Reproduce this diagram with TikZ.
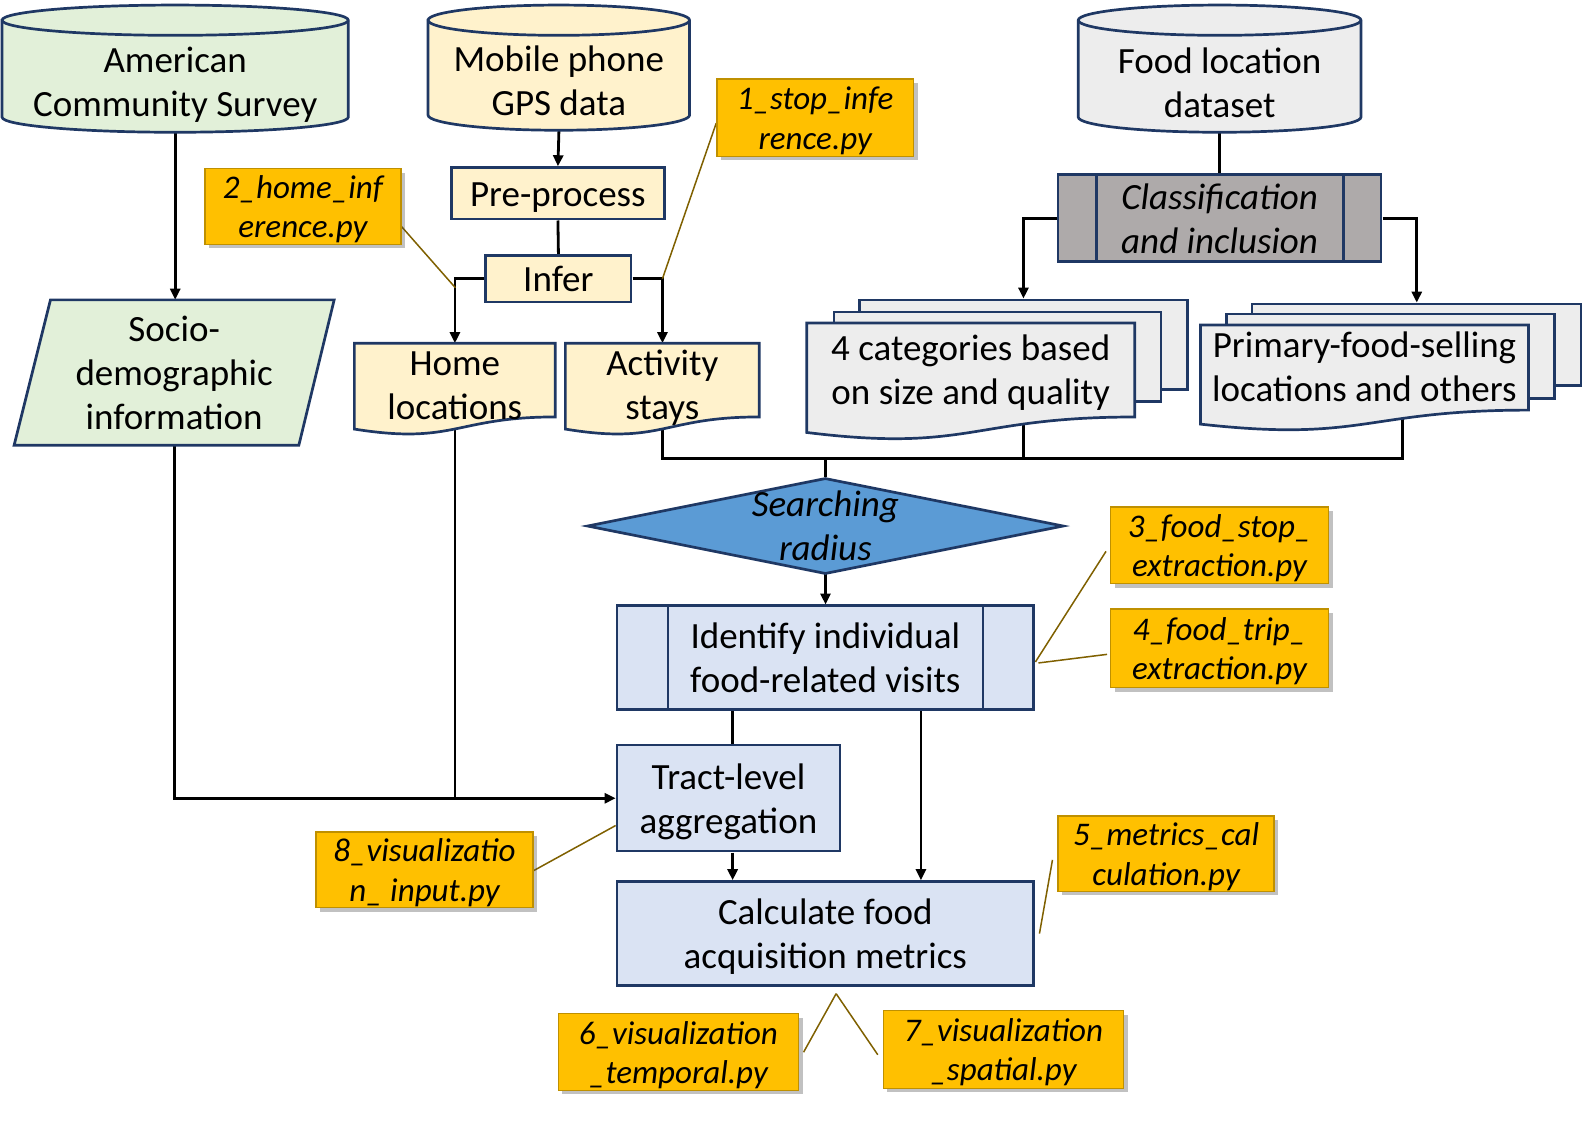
\documentclass[tikz,border=0pt]{standalone}
\usepackage{fontspec}
\setmainfont{Carlito}
\usetikzlibrary{arrows.meta,shadows,backgrounds,calc}

\definecolor{navy}{HTML}{1F3864}
\definecolor{gfill}{HTML}{E2F0D9}
\definecolor{yfill}{HTML}{FFF2CC}
\definecolor{grayfill}{HTML}{EDEDED}
\definecolor{classfill}{HTML}{AEAAAA}
\definecolor{diafill}{HTML}{5B9BD5}
\definecolor{bfill}{HTML}{DAE3F3}
\definecolor{ofill}{HTML}{FFC000}
\definecolor{oline}{HTML}{BF9000}
\definecolor{cline}{HTML}{7F6000}

\newcommand\cylshape[6]{%
  \pgfmathsetmacro\myrx{(#2-#1)/2}%
  \filldraw[shp, fill=#6] (#1,-#3-#5) -- (#1,-#4+#5) arc[start angle=180,end angle=360,x radius=\myrx,y radius=#5] -- (#2,-#3-#5) arc[start angle=0,end angle=180,x radius=\myrx,y radius=#5] -- cycle;
  \draw[shp] (#1,-#3-#5) arc[start angle=180,end angle=360,x radius=\myrx,y radius=#5];
}
\newcommand\docshape[5]{%
  \pgfmathsetmacro\mymid{(#1+#2)/2}%
  \filldraw[shp, fill=#5] (#1,-#3) -- (#2,-#3) -- (#2,{-(#3+0.802*#4)}) .. controls (\mymid,{-(#3+0.802*#4)}) and (\mymid,{-(#3+1.1075*#4)}) .. (#1,{-(#3+0.934*#4)}) -- cycle;
}

\begin{document}
\begin{tikzpicture}[x=1pt,y=1pt,scale=1.00957,transform shape,
  every node/.style={font=\fontsize{36.65}{43.6}\selectfont, align=center, inner sep=0pt},
  one/.style={text height=26pt, text depth=0pt},
  two/.style={text height=69.6pt, text depth=0pt},
  three/.style={text height=113.2pt, text depth=0pt},
  shp/.style={draw=navy, line width=2.7pt},
  box/.style={shp, rectangle},
  ghost/.style={rectangle, draw=none},
  conn/.style={black, line width=2.8pt},
  arr/.style={conn, -{Triangle[width=10pt,length=11pt]}},
  lbl/.style={draw=oline, line width=1.5pt, fill=ofill, font=\fontsize{32.7}{39}\selectfont\itshape,
    text height=62.2pt, text depth=0pt,
    drop shadow={shadow xshift=4pt,shadow yshift=-4pt,opacity=0.35,fill=black!70}},
  call/.style={cline, line width=1.5pt},
  ital/.style={font=\fontsize{36.65}{43.6}\selectfont\itshape},
]
\useasboundingbox (0,0) rectangle (1567.95,-1114.3);

% ---- shapes drawn by hand ----
\cylshape{2}{345}{5}{131}{15}{gfill}
\node[ghost, two, minimum width=343pt, minimum height=100pt] (acs) at (173.5,-81) {American\\Community Survey};
\cylshape{424}{683}{5}{129}{15}{yfill}
\node[ghost, two, minimum width=259pt, minimum height=98pt] (mob) at (553.5,-80) {Mobile phone\\GPS data};
\cylshape{1068}{1348}{5}{131}{15}{grayfill}
\node[ghost, two, minimum width=280pt, minimum height=98pt] (food) at (1208,-82) {Food location\\dataset};

\filldraw[shp, fill=gfill] (50,-297) -- (331,-297) -- (296,-441) -- (14,-441) -- cycle;
\node[ghost, three, minimum width=317pt, minimum height=144pt] (socio) at (172.5,-369) {Socio-\\demographic\\information};

\node[box, one, fill=yfill, minimum width=211pt, minimum height=51pt] (pre) at (552.5,-191.5) {Pre-process};
\node[box, one, fill=yfill, minimum width=144pt, minimum height=46pt] (infer) at (553,-276) {Infer};

\docshape{351}{550}{340}{91}{yfill}
\node[ghost, two, minimum width=199pt, minimum height=82pt] (home) at (450.5,-381) {Home\\locations};
\docshape{560}{752}{340}{91}{yfill}
\node[ghost, two, minimum width=192pt, minimum height=82pt] (act) at (656,-381) {Activity\\stays};

\node[box, two, fill=classfill, ital, minimum width=320pt, minimum height=86pt] (class) at (1208,-216) {Classification\\and inclusion};
\draw[shp] ([xshift=39pt]class.north west) -- ([xshift=39pt]class.south west);
\draw[shp] ([xshift=-39pt]class.north east) -- ([xshift=-39pt]class.south east);

\node[box, fill=grayfill, minimum width=325pt, minimum height=89pt] (catback) at (1013.5,-341.5) {};
\node[box, fill=grayfill, minimum width=324pt, minimum height=89pt] (catmid) at (988,-353.5) {};
\docshape{799}{1124}{320}{116}{grayfill}
\node[ghost, two, minimum width=325pt, minimum height=92pt] (cat) at (961.5,-366) {4 categories based\\on size and quality};

\node[box, fill=grayfill, minimum width=326pt, minimum height=81pt] (primback) at (1403,-341.5) {};
\node[box, fill=grayfill, minimum width=325pt, minimum height=84pt] (primmid) at (1377.5,-353) {};
\docshape{1189}{1514}{322}{105}{grayfill}
\node[ghost, two, minimum width=325pt, minimum height=82pt] (prim) at (1351.5,-363) {Primary-food-selling\\locations and others};

\filldraw[shp, fill=diafill] (582,-521) -- (817.5,-474) -- (1053,-521) -- (817.5,-568) -- cycle;
\node[ghost, two, ital, minimum width=471pt, minimum height=94pt] (radius) at (817.5,-520) {Searching\\radius};

\node[box, two, fill=bfill, minimum width=413pt, minimum height=103pt] (ident) at (817.5,-651.5) {Identify individual\\food-related visits};
\draw[shp] ([xshift=52pt]ident.north west) -- ([xshift=52pt]ident.south west);
\draw[shp] ([xshift=-52pt]ident.north east) -- ([xshift=-52pt]ident.south east);

\node[box, two, fill=bfill, minimum width=221pt, minimum height=105pt] (tract) at (721.5,-790.5) {Tract-level\\aggregation};
\node[box, two, fill=bfill, minimum width=413pt, minimum height=103pt] (calc) at (817.5,-924.5) {Calculate food\\acquisition metrics};

% ---- labels ----
\node[lbl, minimum width=195pt, minimum height=77pt] (l1) at (807.5,-116.5) {1\_stop\_infe\\rence.py};
\node[lbl, minimum width=194pt, minimum height=75pt] (l2) at (300,-204.5) {2\_home\_inf\\erence.py};
\node[lbl, minimum width=216pt, minimum height=76pt] (l3) at (1208,-540) {3\_food\_stop\_\\extraction.py};
\node[lbl, minimum width=216pt, minimum height=78pt] (l4) at (1208,-642) {4\_food\_trip\_\\extraction.py};
\node[lbl, minimum width=214pt, minimum height=75pt] (l5) at (1155,-845.5) {5\_metrics\_cal\\culation.py};
\node[lbl, minimum width=238pt, minimum height=76pt] (l6) at (672,-1042) {6\_visualization\\\_temporal.py};
\node[lbl, minimum width=238pt, minimum height=77pt] (l7) at (994,-1039.5) {7\_visualization\\\_spatial.py};
\node[lbl, minimum width=215pt, minimum height=75pt] (l8) at (420.5,-861.5) {8\_visualizatio\\n\_ input.py};

\coordinate (j) at (817.5,-454);
\coordinate (c2) at (451,-285);
\coordinate (cbot) at (828,-984);

% ---- connectors ----
\begin{scope}[on background layer]
\draw[arr] (mob.south) -- (pre.north);
\draw[conn] (pre.south) -- (infer.north);
\draw[arr] (infer.west) -| (home.north);
\draw[arr] (infer.east) -| (act.north);
\draw[arr] (acs.south) -- (acs.south |- socio.north);
\draw[arr] (socio.center) |- (tract.west);
\draw[conn] (home.center) -- (home.center |- tract.west);
\draw[conn] (food.south) -- (class.north);
\draw[arr] (class.west) -| (catback.north);
\draw[arr] (class.east) -| (primback.north);
\draw[conn] (act.center) |- (j);
\draw[conn] (catback.center) |- (j);
\draw[conn] ([xshift=37.5pt]prim.center) |- (j);
\draw[conn] (j) -- (radius.north);
\draw[arr] (radius.south) -- (ident.north);
\draw[conn] ([xshift=4pt]tract.north |- ident.south) -- ([xshift=4pt]tract.north);
\draw[arr] ([xshift=94.5pt]ident.south) -- ([xshift=94.5pt]calc.north);
\draw[arr] ([xshift=4pt]tract.south) -- ([xshift=4pt]tract.south |- calc.north);
% callouts
\draw[call] ([yshift=-5.5pt]l1.west) -- (act.north |- infer.east);
\draw[call] ([yshift=-20pt]l2.east) -- (c2);
\draw[call] ([xshift=-4pt,yshift=-6pt]l3.west) -- ([yshift=-4pt]ident.east);
\draw[call] ([xshift=-3pt,yshift=-6pt]l4.west) -- ([xshift=3pt,yshift=-5pt]ident.east);
\draw[call] ([yshift=-0.5pt]l8.east) -- ([yshift=-27pt]tract.west);
\draw[call] ([xshift=-5pt,yshift=-6pt]l5.west) -- ([xshift=4pt]calc.east);
\draw[call] ([xshift=4pt]l6.east) -- (cbot);
\draw[call] ([xshift=-5pt,yshift=-5pt]l7.west) -- (cbot);
\end{scope}
\end{tikzpicture}
\end{document}
